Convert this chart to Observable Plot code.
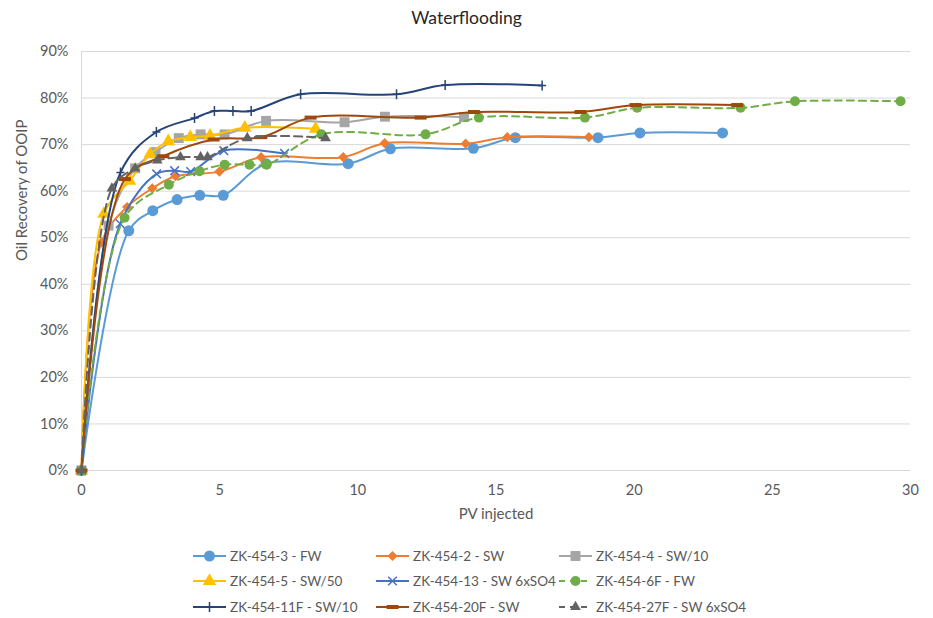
<!DOCTYPE html>
<html><head><meta charset="utf-8">
<script src="https://cdn.jsdelivr.net/npm/d3@7"></script>
<script src="https://cdn.jsdelivr.net/npm/@observablehq/plot@0.6"></script>
<style>
body{margin:0;background:#fff;font-family:Lato,"Open Sans",sans-serif;}
#wrap{width:933px;height:618px;position:relative;overflow:hidden;background:#fff}
#title{position:absolute;left:0;top:0;width:933px;height:36px;line-height:36px;text-align:center;font-size:17.5px;color:#262626;}
#chart{position:absolute;left:0;top:36px;}
#legend{position:absolute;left:0;top:543px;width:933px;height:75px;}
.item{position:absolute;height:25px;display:flex;align-items:center;font-size:13.5px;color:#595959;white-space:nowrap}
.item svg{margin-right:3px}
</style></head><body>
<div id="wrap"><div id="title">Waterflooding</div><div id="chart"></div><div id="legend"></div></div>
<script>
// ---- data ----
const xTicks = [0, 5, 10, 15, 20, 25, 30];
const yTicks = [0, 10, 20, 30, 40, 50, 60, 70, 80, 90];
const seriesNames = ["ZK-454-3 - FW","ZK-454-2 - SW","ZK-454-4 - SW/10","ZK-454-5 - SW/50","ZK-454-13 - SW 6xSO4","ZK-454-6F - FW","ZK-454-11F - SW/10","ZK-454-20F - SW","ZK-454-27F - SW 6xSO4"];

const s1PV  = [0, 1.71, 2.58, 3.46, 4.28, 5.13, 6.68, 9.65, 11.18, 14.18, 15.70, 18.69, 20.21, 23.2];
const s1Rec = [0, 51.5, 55.8, 58.2, 59.1, 59.1, 65.9, 65.9, 69.1, 69.2, 71.5, 71.5, 72.5, 72.5];
const s2PV  = [0, 0.72, 1.65, 2.56, 3.40, 4.99, 6.50, 9.47, 10.97, 13.90, 15.41, 18.36];
const s2Rec = [0, 49.0, 56.6, 60.6, 63.2, 64.2, 67.3, 67.3, 70.3, 70.2, 71.6, 71.6];
const s3PV  = [0, 0.98, 1.94, 2.68, 3.52, 4.31, 5.18, 6.68, 9.52, 10.98, 13.84];
const s3Rec = [0, 52.6, 64.9, 68.4, 71.4, 72.2, 72.2, 75.1, 74.8, 76.0, 75.9];
const s4PV  = [0, 0.81, 1.74, 2.48, 3.14, 3.94, 4.65, 5.91, 8.47];
const s4Rec = [0, 55.1, 62.2, 67.9, 70.7, 71.6, 71.9, 73.6, 73.4];
const s5PV  = [0, 1.40, 2.72, 3.37, 3.95, 5.15, 7.35];
const s5Rec = [0, 53.0, 63.7, 64.4, 64.2, 68.7, 68.1];
const s6PV  = [0, 1.56, 3.16, 4.27, 5.18, 6.08, 6.70, 8.68, 12.45, 14.38, 18.22, 20.11, 23.85, 25.82, 29.64];
const s6Rec = [0, 54.3, 61.4, 64.3, 65.7, 65.7, 65.7, 72.2, 72.2, 75.8, 75.8, 77.9, 77.9, 79.3, 79.3];
const s7PV  = [0, 1.41, 2.71, 4.09, 4.81, 5.48, 6.14, 7.93, 11.40, 13.16, 16.67];
const s7Rec = [0, 64.0, 72.7, 75.7, 77.2, 77.2, 77.2, 80.8, 80.8, 82.8, 82.7];
const s8PV  = [0, 1.57, 2.96, 4.78, 6.51, 8.29, 12.27, 14.20, 18.06, 20.05, 23.73];
const s8Rec = [0, 62.6, 67.5, 71.1, 71.6, 75.8, 75.8, 77.0, 77.0, 78.5, 78.5];
const s9PV  = [0, 1.10, 1.94, 2.74, 3.58, 4.31, 4.56, 6.00, 8.83];
const s9Rec = [0, 60.6, 64.9, 66.6, 67.3, 67.3, 67.3, 71.4, 71.4];

// ---- styling ----
const dashSym = {draw(ctx){ ctx.moveTo(-6,-2); ctx.lineTo(6,-2); ctx.lineTo(6,2); ctx.lineTo(-6,2); ctx.closePath(); }};
const plusSym = {draw(ctx){ ctx.moveTo(0,-5); ctx.lineTo(0,5); ctx.moveTo(-4,0); ctx.lineTo(4,0); }};
const styles = [
  {color:"#5B9BD5", symbol:d3.symbolCircle, r:5.5, fill:true},
  {color:"#ED7D31", symbol:d3.symbolDiamond2, r:4.6, fill:true},
  {color:"#A5A5A5", symbol:d3.symbolSquare, r:5.6, fill:true},
  {color:"#FFC000", symbol:d3.symbolTriangle, r:5, fill:true},
  {color:"#4472C4", symbol:d3.symbolTimes, r:4, fill:false},
  {color:"#70AD47", symbol:d3.symbolCircle, r:5, fill:true, dash:"7,5"},
  {color:"#264478", symbol:plusSym, r:4, fill:false},
  {color:"#9E480E", symbol:dashSym, r:4, fill:true},
  {color:"#636363", symbol:d3.symbolTriangle, r:4, fill:true, dash:"8,5"}
];
const pvs = [s1PV,s2PV,s3PV,s4PV,s5PV,s6PV,s7PV,s8PV,s9PV];
const recs = [s1Rec,s2Rec,s3Rec,s4Rec,s5Rec,s6Rec,s7Rec,s8Rec,s9Rec];

const marks = [
  Plot.gridY(yTicks, {stroke:"#D9D9D9", strokeOpacity:1, strokeWidth:1}),
  Plot.ruleX([0], {stroke:"#D9D9D9", strokeWidth:1}),
  Plot.axisY(yTicks, {tickSize:0, tickPadding:13, tickFormat:d => d + "%", fill:"#595959", label:null}),
  Plot.axisX(xTicks, {tickSize:0, tickPadding:14, tickFormat:d => String(d), fill:"#595959", label:null}),
  Plot.text(["PV injected"], {frameAnchor:"bottom", dy:48, fill:"#595959", fontSize:15}),
  Plot.text(["Oil Recovery of OOIP"], {frameAnchor:"left", dx:-59, rotate:-90, fill:"#595959", fontSize:15})
];
seriesNames.forEach((name, i) => {
  const rows = pvs[i].map((x, j) => ({series:name, x, y:recs[i][j]}));
  const st = styles[i];
  marks.push(Plot.line(rows, {x:"x", y:"y", curve:"catmull-rom", stroke:st.color, strokeWidth:2, strokeDasharray:st.dash}));
  marks.push(Plot.dot(rows, {x:"x", y:"y", symbol:st.symbol, r:st.r,
    fill: st.fill ? st.color : "none", stroke: st.fill ? "none" : st.color, strokeWidth: st.fill ? 0 : 1.5}));
});

const chart = Plot.plot({
  width:933, height:500,
  marginLeft:81, marginRight:23, marginTop:15, marginBottom:66,
  style:{fontFamily:"Lato, 'Open Sans', sans-serif", fontSize:"14.5px", color:"#595959", background:"#fff"},
  x:{domain:[0,30], label:null},
  y:{domain:[0,90], label:null},
  marks
});
document.getElementById("chart").appendChild(chart);

// ---- legend ----
const legend = d3.select("#legend");
const colX = [193, 376, 559];
seriesNames.forEach((name, i) => {
  const st = styles[i];
  const item = legend.append("div").attr("class","item")
    .style("left", colX[i % 3] + "px").style("top", (Math.floor(i / 3) * 25.5) + "px");
  const svg = item.append("svg").attr("width", 34).attr("height", 14);
  svg.append("line").attr("x1",0).attr("x2",33).attr("y1",7).attr("y2",7)
    .attr("stroke", st.color).attr("stroke-width", 2).attr("stroke-dasharray", st.dash ? "6,5" : null);
  const size = Math.PI * st.r * st.r;
  svg.append("path").attr("transform","translate(16.5,7)")
    .attr("d", d3.symbol(st.symbol, size)())
    .attr("fill", st.fill ? st.color : "none").attr("stroke", st.fill ? "none" : st.color).attr("stroke-width", 1.5);
  item.append("span").text(name);
});
</script>
</body></html>
